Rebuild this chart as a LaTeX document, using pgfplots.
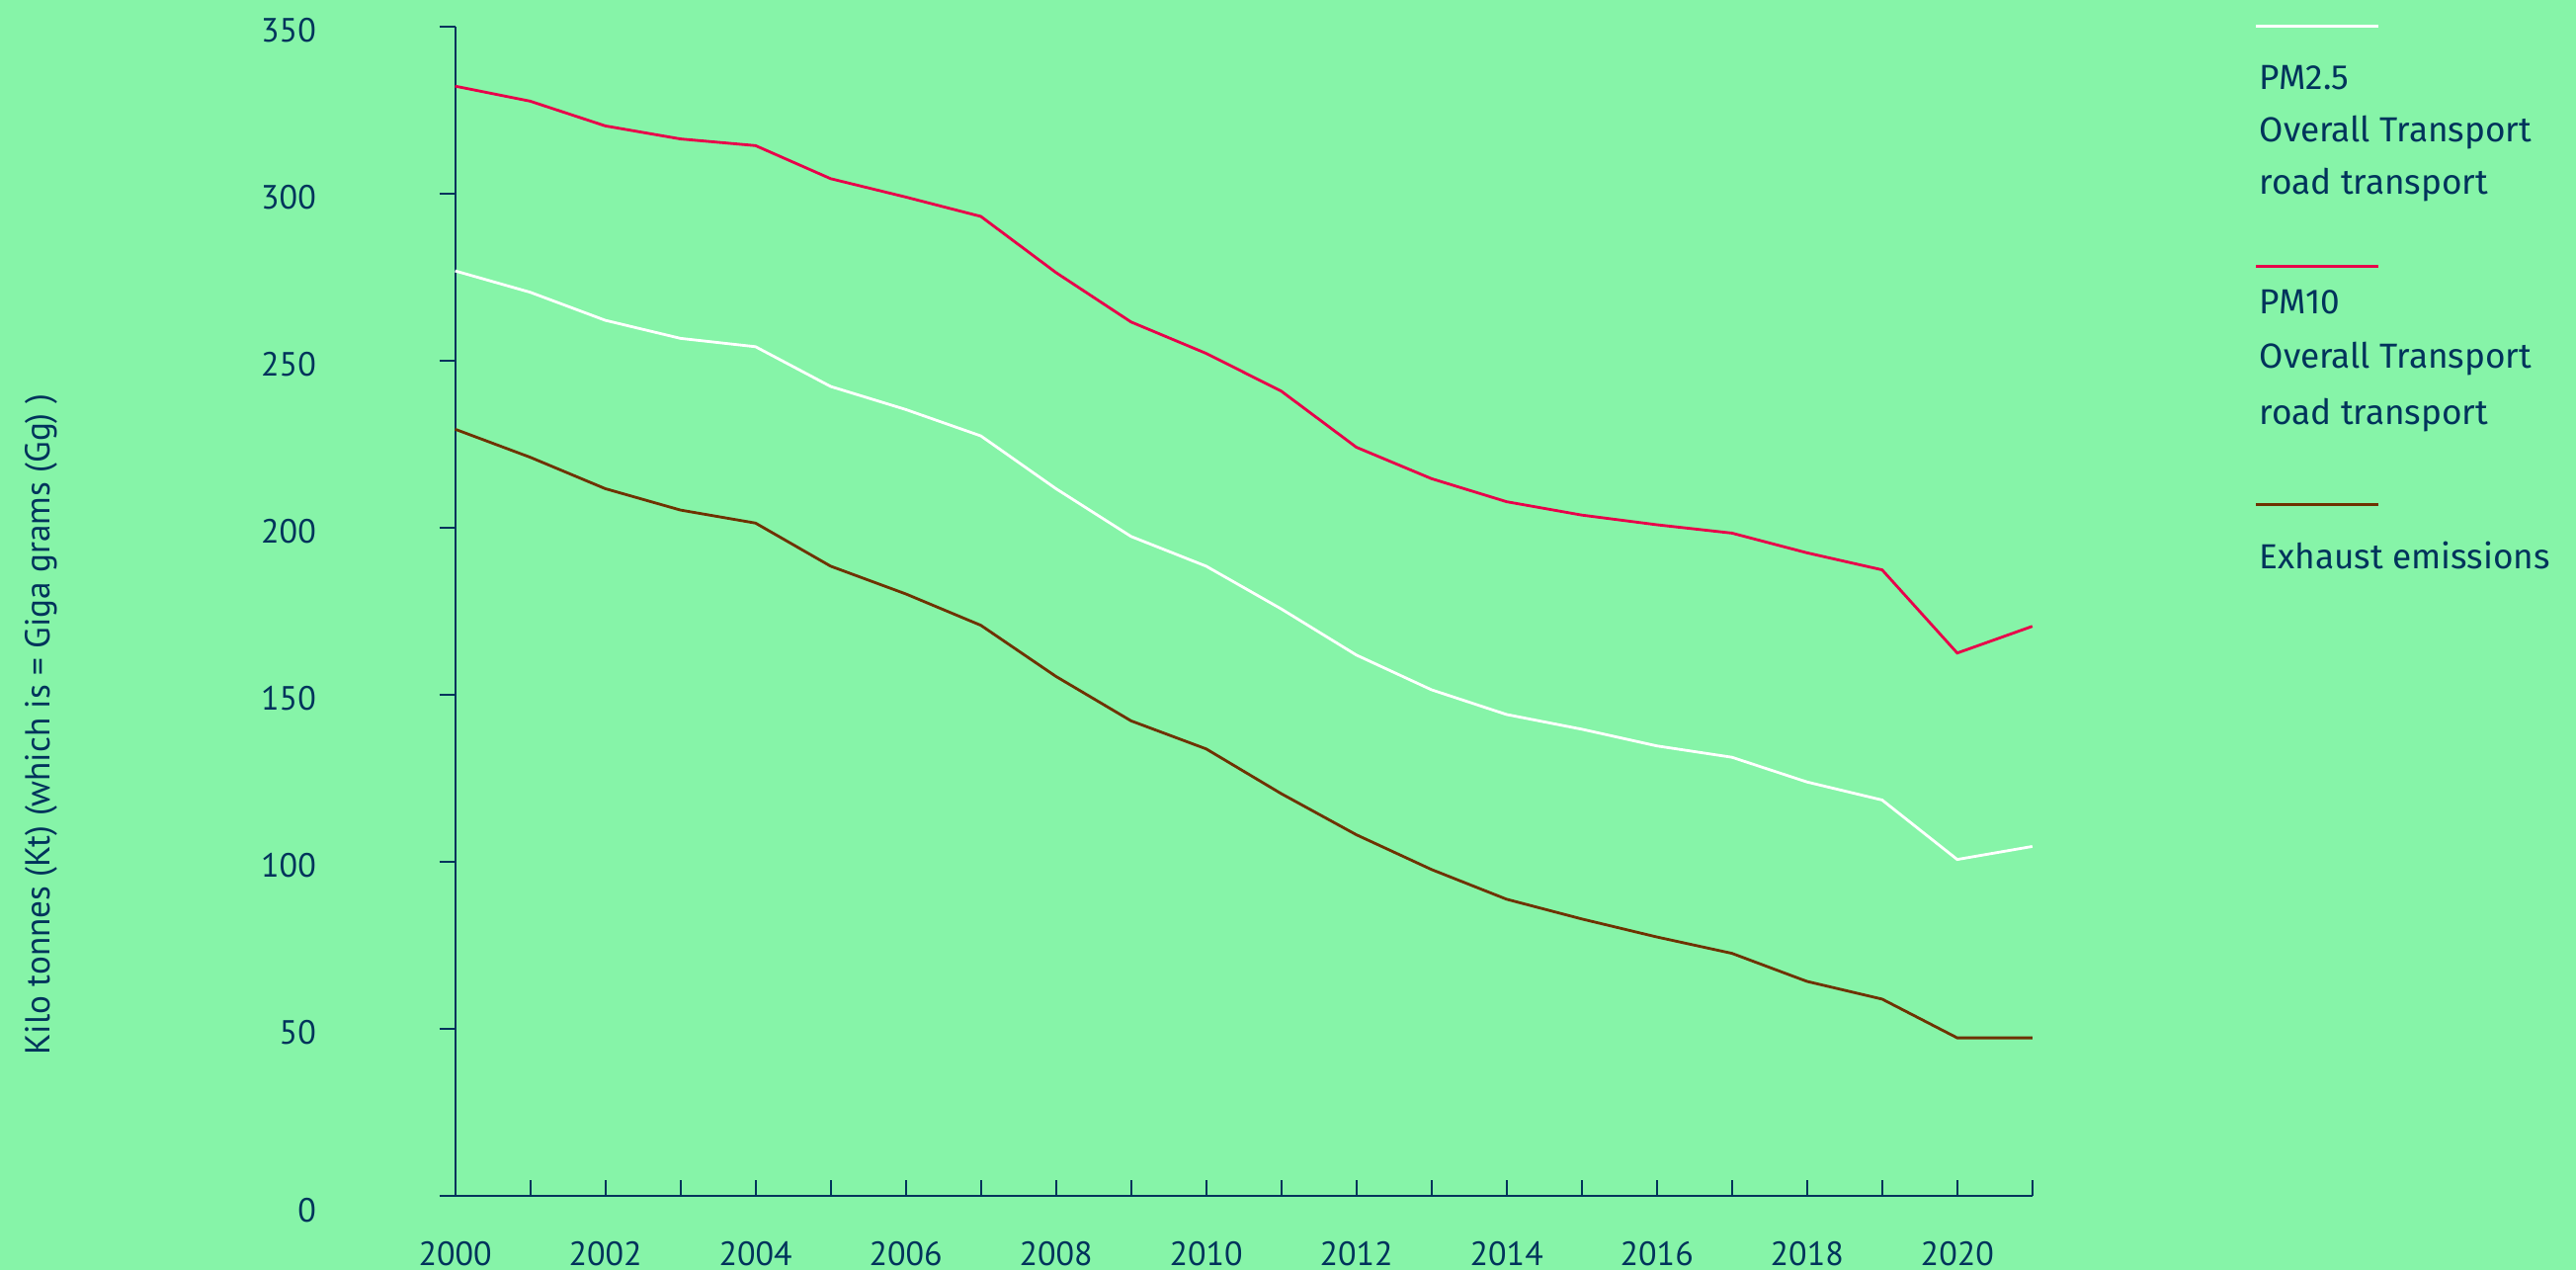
\documentclass[border=0pt]{standalone}
\usepackage{pgfplots}
\pgfplotsset{compat=1.18}
\usepackage{fontspec}
\setmainfont{PT Sans}
\newfontfamily\legendfont{Fira Sans}
\definecolor{bg}{HTML}{86F4A8}
\definecolor{navy}{HTML}{00335B}
\definecolor{pmred}{HTML}{E8004A}
\definecolor{exbrown}{HTML}{6E3200}
\begin{document}
\begin{tikzpicture}
\path[use as bounding box, fill=bg] (-115.15pt,-18.75pt) rectangle (536.6pt,302.5pt);
\begin{axis}[
  at={(0pt,0pt)}, anchor=south west, scale only axis,
  width=399.05pt, height=295.75pt,
  xmin=2000, xmax=2021, ymin=0, ymax=350,
  axis lines=left,
  axis line style={-, navy, line width=0.5pt},
  xtick={2000,2001,...,2021},
  xticklabels={2000,,2002,,2004,,2006,,2008,,2010,,2012,,2014,,2016,,2018,,2020,},
  ytick={0,50,...,350},
  yticklabels={\raisebox{-2.7pt}[\height][\depth]{0},50,100,150,200,250,300,350},
  tick style={navy, line width=0.5pt},
  major tick length=4pt,
  tick align=inside,
  ytick style={xshift=-4pt},
  /pgf/number format/assume math mode=true,
  ticklabel style={font=\fontsize{8.5}{10}\selectfont, text=navy, inner sep=0pt},
  yticklabel style={anchor=east, xshift=-35pt, yshift=-1pt},
  xticklabel style={anchor=center, yshift=-14.6pt},
  ylabel={Kilo tonnes (Kt) (which is = Giga grams (Gg) )},
  ylabel style={at={(axis description cs:-0.2622,0.403)}, anchor=center, rotate=0, font=\fontsize{8.8}{10}\selectfont, text=navy},
  clip=false,
]
\addplot[white, line width=0.7pt] coordinates {
(2000,276.9) (2001,270.5) (2002,262.1) (2003,256.7) (2004,254.2) (2005,242.3)
(2006,235.4) (2007,227.5) (2008,211.7) (2009,197.4) (2010,188.5) (2011,175.7)
(2012,161.9) (2013,151.5) (2014,144.1) (2015,139.7) (2016,134.7) (2017,131.3)
(2018,123.9) (2019,118.5) (2020,100.7) (2021,104.6)};
\addplot[pmred, line width=0.7pt] coordinates {
(2000,332.2) (2001,327.7) (2002,320.3) (2003,316.4) (2004,314.4) (2005,304.5)
(2006,299.0) (2007,293.2) (2008,276.4) (2009,261.6) (2010,252.2) (2011,240.9)
(2012,224.1) (2013,214.7) (2014,207.8) (2015,203.8) (2016,200.9) (2017,198.4)
(2018,192.5) (2019,187.4) (2020,162.5) (2021,170.5)};
\addplot[exbrown, line width=0.7pt] coordinates {
(2000,229.5) (2001,221.1) (2002,211.7) (2003,205.3) (2004,201.4) (2005,188.5)
(2006,180.2) (2007,170.8) (2008,155.5) (2009,142.2) (2010,133.8) (2011,120.4)
(2012,108.1) (2013,97.7) (2014,88.8) (2015,82.9) (2016,77.5) (2017,72.6)
(2018,64.2) (2019,58.9) (2020,47.3) (2021,47.3)};
\end{axis}
% legend
\draw[white, line width=0.7pt] (455.6pt,295.85pt) -- (486.6pt,295.85pt);
\draw[pmred, line width=0.7pt] (455.6pt,235.15pt) -- (486.6pt,235.15pt);
\draw[exbrown, line width=0.7pt] (455.6pt,174.9pt) -- (486.6pt,174.9pt);
\begin{scope}[every node/.style={anchor=base west, inner sep=0pt, text=navy, font=\legendfont\fontsize{8.8}{10}\selectfont}]
\node at (456.35pt,279.97pt) {PM2.5};
\node at (456.35pt,266.65pt) {Overall Transport};
\node at (456.35pt,253.35pt) {road transport};
\node at (456.35pt,223pt) {PM10};
\node at (456.35pt,209.3pt) {Overall Transport};
\node at (456.35pt,195.2pt) {road transport};
\node at (456.35pt,158.6pt) {Exhaust emissions};
\end{scope}
\end{tikzpicture}
\end{document}
